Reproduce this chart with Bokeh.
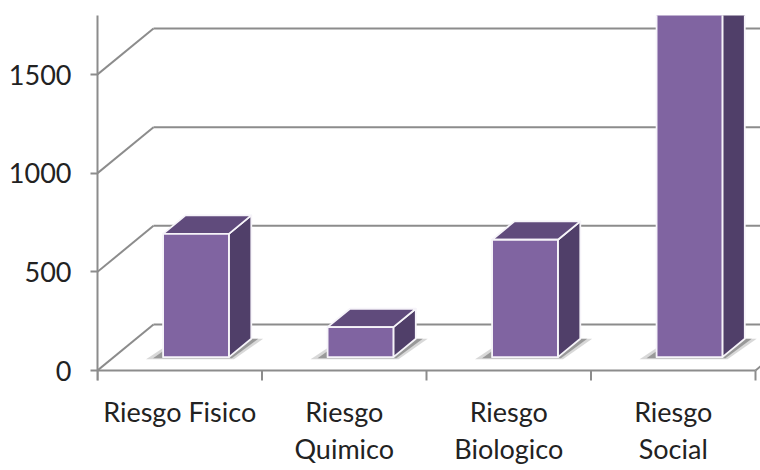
from bokeh.plotting import figure
from bokeh.models import Range1d, FixedTicker
from bokeh.embed import file_html
from bokeh.resources import INLINE
from bokeh.core.properties import value

# ---------------- data ----------------
categories = ["Riesgo Fisico", "Riesgo Quimico", "Riesgo Biologico", "Riesgo Social"]
label_lines = [["Riesgo Fisico"], ["Riesgo", "Quimico"], ["Riesgo", "Biologico"], ["Riesgo", "Social"]]
values = [625, 152, 595, 1800]
y_ticks = [0, 500, 1000, 1500]

# ---------------- geometry (pixels -> data) ----------------
W, H = 760, 470
LEFT, TOP = 97, 15
CAT_PX = 164.5                 # pixels per category
PX_PER_UNIT = 296 / 1500       # pixels per value unit
ZERO_PX = 370                  # pixel row of value 0 (front)

def dxp(px):
    return px / CAT_PX

def dyp(px):
    return px / PX_PER_UNIT

def row(px):
    return (ZERO_PX - px) / PX_PER_UNIT

n = len(categories)
DX, DY = dxp(56), dyp(46)      # depth of the floor / walls
F1, F2 = 0.29, 0.69            # depth fractions of bar front / back
BAR_W = 0.4

x_end = dxp(W - LEFT)
y_start, y_end = row(H), row(TOP)

FONT = "Lato"
TEXT_COLOR = "#222222"
GRID_COLOR = "#8c8c8c"

p = figure(width=W, height=H, output_backend="svg", toolbar_location=None,
           x_range=Range1d(0, x_end), y_range=Range1d(y_start, y_end),
           x_axis_location=None, y_axis_location="left",
           min_border_left=LEFT, min_border_right=0, min_border_top=TOP, min_border_bottom=0)
p.outline_line_color = None
p.grid.visible = False
p.background_fill_color = "white"
p.border_fill_color = "white"

yax = p.yaxis[0]
yax.ticker = FixedTicker(ticks=y_ticks)
yax.bounds = (row(380), y_end)
yax.axis_line_color = GRID_COLOR
yax.axis_line_width = 2
yax.major_tick_line_color = GRID_COLOR
yax.major_tick_line_width = 2
yax.major_tick_out = 7
yax.major_tick_in = 0
yax.minor_tick_line_color = None
yax.major_label_standoff = 19
yax.major_label_text_font = FONT
yax.major_label_text_font_size = "27px"
yax.major_label_text_color = TEXT_COLOR

# ---------------- walls: diagonal + back gridlines ----------------
diag_x0 = [0.0 for v in y_ticks]
diag_y0 = list(y_ticks)
diag_x1 = [DX for v in y_ticks]
diag_y1 = [v + DY for v in y_ticks]
p.segment(diag_x0, diag_y0, diag_x1, diag_y1, line_color=GRID_COLOR, line_width=2)
p.segment(diag_x1, diag_y1, [n + DX] * len(y_ticks), diag_y1, line_color=GRID_COLOR, line_width=2)

# floor front edge (x-axis) and right edge
p.segment([0], [0], [n], [0], line_color=GRID_COLOR, line_width=2)
p.segment([n], [0], [n + DX], [DY], line_color=GRID_COLOR, line_width=2)
# x ticks at category boundaries
bx = list(range(n + 1))
p.segment(bx, [0] * len(bx), bx, [row(380)] * len(bx), line_color=GRID_COLOR, line_width=2)

# ---------------- bars ----------------
ddx, ddy = (F2 - F1) * DX, (F2 - F1) * DY
front_xs, front_ys, top_xs, top_ys, side_xs, side_ys = [], [], [], [], [], []
sh1_xs, sh1_ys, sh2_xs, sh2_ys = [], [], [], []
for i, h in enumerate(values):
    x0 = i + 0.5 - BAR_W / 2 + F1 * DX
    x1 = x0 + BAR_W
    y0 = F1 * DY
    y1 = y0 + h
    front_xs.append([x0, x1, x1, x0]); front_ys.append([y0, y0, y1, y1])
    top_xs.append([x0, x1, x1 + ddx, x0 + ddx]); top_ys.append([y1, y1, y1 + ddy, y1 + ddy])
    side_xs.append([x1, x1 + ddx, x1 + ddx, x1]); side_ys.append([y0, y0 + ddy, y1 + ddy, y1])
    # soft shadow on the floor
    for (e, fwd, xs_l, ys_l) in ((dxp(17), dyp(2), sh1_xs, sh1_ys), (dxp(10), dyp(1), sh2_xs, sh2_ys)):
        sx0 = x0 - e
        sx1 = x1 + ddx + e * 0.7
        xs_l.append([sx0, x1 + e * 0.3, sx1, x0 + ddx - e * 0.5])
        ys_l.append([y0 - fwd, y0 - fwd, y0 + ddy, y0 + ddy])

p.patches(sh1_xs, sh1_ys, fill_color="#a8a8a8", fill_alpha=0.45, line_color=None)
p.patches(sh2_xs, sh2_ys, fill_color="#707070", fill_alpha=0.6, line_color=None)

outline = dict(line_color="#f6f4f9", line_width=1.8, line_join="round")
p.patches(side_xs, side_ys, fill_color="#503f69", **outline)
p.patches(top_xs, top_ys, fill_color="#604b7c", **outline)
p.patches(front_xs, front_ys, fill_color="#8064a1", **outline)

# ---------------- category labels ----------------
baselines_px = [410.5, 448.0]
lx, ly, lt = [], [], []
for i, lines in enumerate(label_lines):
    for k, t in enumerate(lines):
        lx.append(i + 0.5)
        ly.append(row(baselines_px[k]))
        lt.append(t)
p.text(lx, ly, text=lt, text_align="center", text_baseline="alphabetic",
       text_font=value(FONT), text_font_size="27px", text_color=TEXT_COLOR)

open("out.html", "w").write(file_html(p, INLINE))
